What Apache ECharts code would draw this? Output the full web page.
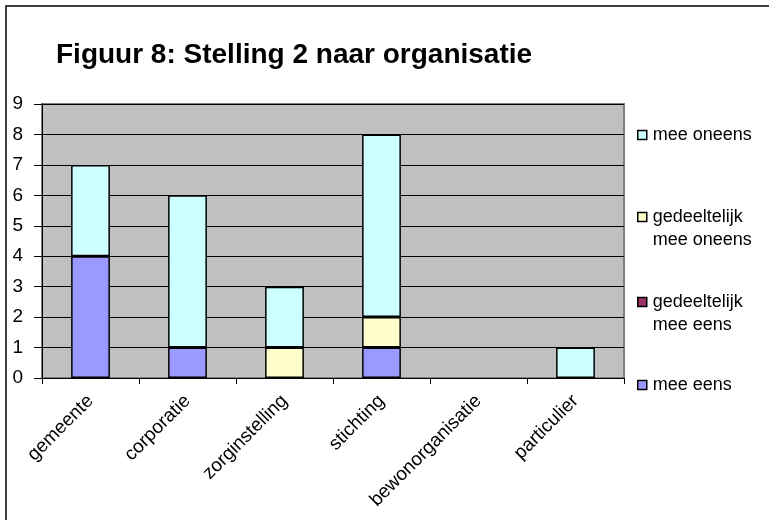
<!DOCTYPE html>
<html>
<head>
<meta charset="utf-8">
<script src="https://cdn.jsdelivr.net/npm/echarts@6/dist/echarts.min.js"></script>
<style>html,body{margin:0;padding:0;background:#fff}#c{width:769px;height:520px}</style>
</head>
<body>
<div id="c"></div>
<script>
const titleText = 'Figuur 8: Stelling 2 naar organisatie';
const categories = ['gemeente', 'corporatie', 'zorginstelling', 'stichting', 'bewonorganisatie', 'particulier'];
const meeEens = [4, 1, 0, 1, 0, 0];
const gedeeltelijkMeeEens = [0, 0, 0, 0, 0, 0];
const gedeeltelijkMeeOneens = [0, 0, 1, 1, 0, 0];
const meeOneens = [3, 5, 2, 6, 0, 1];
const yTicks = [0, 1, 2, 3, 4, 5, 6, 7, 8, 9];

const FONT = '"Liberation Sans", Arial, sans-serif';
const clean = arr => arr.map(v => (v === 0 ? '-' : v));

const seriesDefs = [
  { name: 'mee eens', data: meeEens, color: '#9999FF' },
  { name: 'gedeeltelijk mee eens', data: gedeeltelijkMeeEens, color: '#993366' },
  { name: 'gedeeltelijk mee oneens', data: gedeeltelijkMeeOneens, color: '#FFFFCC' },
  { name: 'mee oneens', data: meeOneens, color: '#CCFFFF' }
];

const LH = 23;
function legendAt(name, markerY, twoLine) {
  const h = twoLine ? 3 * LH : LH;
  return {
    data: [name],
    left: 637,
    top: markerY - h / 2,
    orient: 'vertical',
    padding: 0,
    icon: 'rect',
    itemWidth: 9,
    itemHeight: 9,
    selectedMode: false,
    itemStyle: { borderColor: '#000', borderWidth: 1.5 },
    formatter: n => twoLine ? '\n' + n.replace('gedeeltelijk ', 'gedeeltelijk\n') : n,
    textStyle: {
      fontFamily: FONT, fontSize: 18, color: '#000', lineHeight: LH,
      padding: [0, 0, 0, 1]
    }
  };
}

const chart = echarts.init(document.getElementById('c'), null, { renderer: 'canvas' });
chart.setOption({
  animation: false,
  backgroundColor: '#fff',
  title: {
    text: titleText,
    left: 56,
    top: 41,
    padding: 0,
    textStyle: { fontFamily: FONT, fontSize: 28, fontWeight: 'bold', color: '#000' }
  },
  graphic: [
    { type: 'rect', shape: { x: 6, y: 6, width: 900, height: 700 }, style: { fill: 'none', stroke: '#000', lineWidth: 1.5 }, silent: true }
  ],
  legend: [
    legendAt('mee oneens', 135, false),
    legendAt('gedeeltelijk mee oneens', 217, true),
    legendAt('gedeeltelijk mee eens', 302, true),
    legendAt('mee eens', 385, false)
  ],
  grid: {
    left: 42, right: 145, top: 104, bottom: 142,
    show: true, backgroundColor: '#C0C0C0', borderColor: '#808080', borderWidth: 2
  },
  xAxis: {
    type: 'category',
    data: categories,
    axisLine: { lineStyle: { color: '#000', width: 1 } },
    axisTick: { show: true, length: 6, lineStyle: { color: '#000' } },
    axisLabel: {
      rotate: 45, interval: 0, margin: 20,
      fontFamily: FONT, fontSize: 19, color: '#000'
    },
    splitLine: { show: false }
  },
  yAxis: {
    type: 'value',
    min: yTicks[0], max: yTicks[yTicks.length - 1], interval: 1,
    axisLine: { show: true, lineStyle: { color: '#000', width: 1 } },
    axisTick: { show: true, length: 8, lineStyle: { color: '#000' } },
    axisLabel: { margin: 19, fontFamily: FONT, fontSize: 19, color: '#000' },
    splitLine: { show: true, lineStyle: { color: '#000', width: 1 } }
  },
  series: seriesDefs.map(s => ({
    name: s.name,
    type: 'bar',
    stack: 'total',
    barWidth: '40%',
    data: clean(s.data),
    itemStyle: { color: s.color, borderColor: '#000', borderWidth: 1.5 }
  }))
});
</script>
</body>
</html>
